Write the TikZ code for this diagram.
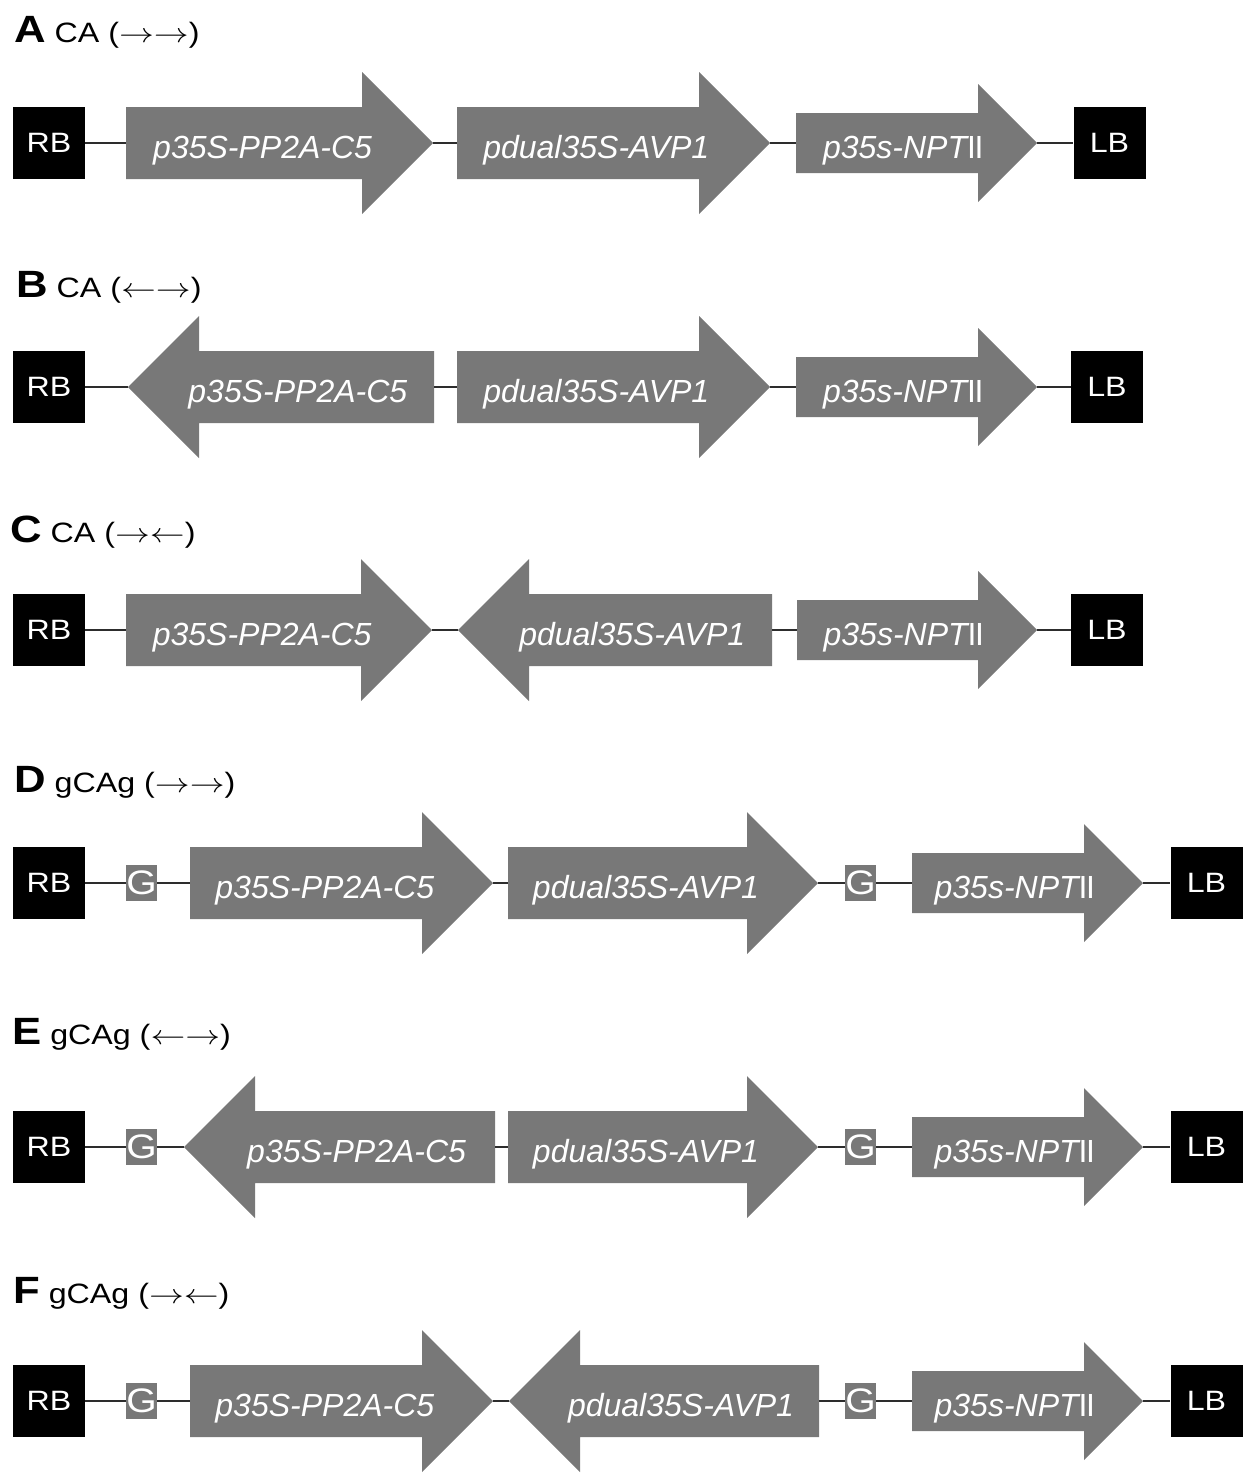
\documentclass[tikz,border=0pt]{standalone}
\usepackage{graphicx}
\usepackage{fontspec}
\setmainfont{Liberation Sans}
\newfontfamily\widesans[FakeStretch=1.15]{Liberation Sans}
\definecolor{genegray}{RGB}{120,120,120}
\definecolor{linegray}{RGB}{45,45,45}
\tikzset{
  border/.style={fill=black, minimum width=72pt, minimum height=72pt, inner sep=0pt,
    text=white, font=\widesans\fontsize{28}{28}\selectfont},
  gbox/.style={fill=genegray, minimum width=31pt, minimum height=36pt, inner sep=0pt,
    text=white, font=\widesans\fontsize{34}{34}\selectfont},
  genetext/.style={text=white, font=\itshape\fontsize{32}{32}\selectfont, anchor=base, inner sep=0pt},
  genefill/.style={fill=genegray},
  link/.style={draw=linegray, line width=2pt},
  paneltitle/.style={anchor=base west, inner sep=0pt, font=\widesans\fontsize{28}{28}\selectfont},
}
\newcommand\npt{\upshape I\kern-1.5pt I}
\newcommand\ttl[1]{{\bfseries\fontsize{38}{38}\selectfont #1}}
\newcommand\ra{\scalebox{1.4}[1.1]{$\rightarrow$}}
\newcommand\la{\scalebox{1.4}[1.1]{$\leftarrow$}}
% name, tail x, tip x, y, shaft half, head half, text
\newcommand\genearrow[7]{%
  \pgfmathsetmacro\gA{#3-sign(#3-#2)*#6}%
  \pgfmathsetmacro\gT{#2+0.445*(#3-#2)}%
  \coordinate (#1-tail) at (#2,#4);
  \coordinate (#1-tip) at (#3,#4);
  \fill[genefill] (#2,#4-#5) -- (\gA,#4-#5) -- (\gA,#4-#6) -- (#3,#4)
    -- (\gA,#4+#6) -- (\gA,#4+#5) -- (#2,#4+#5) -- cycle;
  \node[genetext] (#1) at (\gT,#4+15) {#7};
}
\begin{document}
\begin{tikzpicture}[x=1pt,y=-1pt]
\useasboundingbox (0,0) rectangle (1250,1481);

% ---------- A ----------
\node[paneltitle] (tA) at (14,42) {\ttl{A} CA (\ra\ra)};
\node[border] (rbA) at (49,143) {RB};
\genearrow{a1}{126}{433}{143}{36}{71}{p35S-PP2A-C5}
\genearrow{a2}{457}{770}{143}{36}{71}{pdual35S-AVP1}
\genearrow{a3}{796}{1037}{143}{30}{59}{p35s-NPT\npt}
\node[border] (lbA) at (1109.5,143) {LB};
\draw[link] (rbA.east) -- (a1-tail);
\draw[link] (a1-tip) -- (a2-tail);
\draw[link] (a2-tip) -- (a3-tail);
\draw[link] (a3-tip) -- (lbA.west);

% ---------- B ----------
\node[paneltitle] (tB) at (16,297) {\ttl{B} CA (\la\ra)};
\node[border] (rbB) at (49,387) {RB};
\genearrow{b1}{434}{128}{387}{36}{71}{p35S-PP2A-C5}
\genearrow{b2}{457}{770}{387}{36}{71}{pdual35S-AVP1}
\genearrow{b3}{796}{1037}{387}{30}{59}{p35s-NPT\npt}
\node[border] (lbB) at (1107,387) {LB};
\draw[link] (rbB.east) -- (b1-tip);
\draw[link] (b1-tail) -- (b2-tail);
\draw[link] (b2-tip) -- (b3-tail);
\draw[link] (b3-tip) -- (lbB.west);

% ---------- C ----------
\node[paneltitle] (tC) at (10,542) {\ttl{C} CA (\ra\la)};
\node[border] (rbC) at (49,630) {RB};
\genearrow{c1}{126}{432}{630}{36}{71}{p35S-PP2A-C5}
\genearrow{c2}{772}{458}{630}{36}{71}{pdual35S-AVP1}
\genearrow{c3}{797}{1037}{630}{30}{59}{p35s-NPT\npt}
\node[border] (lbC) at (1107,630) {LB};
\draw[link] (rbC.east) -- (c1-tail);
\draw[link] (c1-tip) -- (c2-tip);
\draw[link] (c2-tail) -- (c3-tail);
\draw[link] (c3-tip) -- (lbC.west);

% ---------- D ----------
\node[paneltitle] (tD) at (14,792) {\ttl{D} gCAg (\ra\ra)};
\node[border] (rbD) at (49,883) {RB};
\node[gbox] (gD1) at (141.5,883) {G};
\genearrow{d1}{190}{493}{883}{36}{71}{p35S-PP2A-C5}
\genearrow{d2}{508}{818}{883}{36}{71}{pdual35S-AVP1}
\node[gbox] (gD2) at (860.5,883) {G};
\genearrow{d3}{912}{1143}{883}{30}{59}{p35s-NPT\npt}
\node[border] (lbD) at (1206.5,883) {LB};
\draw[link] (rbD.east) -- (gD1.west);
\draw[link] (gD1.east) -- (d1-tail);
\draw[link] (d1-tip) -- (d2-tail);
\draw[link] (d2-tip) -- (gD2.west);
\draw[link] (gD2.east) -- (d3-tail);
\draw[link] (d3-tip) -- (lbD.west);

% ---------- E ----------
\node[paneltitle] (tE) at (12,1044) {\ttl{E} gCAg (\la\ra)};
\node[border] (rbE) at (49,1147) {RB};
\node[gbox] (gE1) at (141.5,1147) {G};
\genearrow{e1}{495}{184}{1147}{36}{71}{p35S-PP2A-C5}
\genearrow{e2}{508}{818}{1147}{36}{71}{pdual35S-AVP1}
\node[gbox] (gE2) at (860.5,1147) {G};
\genearrow{e3}{912}{1143}{1147}{30}{59}{p35s-NPT\npt}
\node[border] (lbE) at (1206.5,1147) {LB};
\draw[link] (rbE.east) -- (gE1.west);
\draw[link] (gE1.east) -- (e1-tip);
\draw[link] (e1-tail) -- (e2-tail);
\draw[link] (e2-tip) -- (gE2.west);
\draw[link] (gE2.east) -- (e3-tail);
\draw[link] (e3-tip) -- (lbE.west);

% ---------- F ----------
\node[paneltitle] (tF) at (13,1303) {\ttl{F} gCAg (\ra\la)};
\node[border] (rbF) at (49,1401) {RB};
\node[gbox] (gF1) at (141.5,1401) {G};
\genearrow{f1}{190}{493}{1401}{36}{71}{p35S-PP2A-C5}
\genearrow{f2}{819}{509}{1401}{36}{71}{pdual35S-AVP1}
\node[gbox] (gF2) at (860.5,1401) {G};
\genearrow{f3}{912}{1143}{1401}{30}{59}{p35s-NPT\npt}
\node[border] (lbF) at (1206.5,1401) {LB};
\draw[link] (rbF.east) -- (gF1.west);
\draw[link] (gF1.east) -- (f1-tail);
\draw[link] (f1-tip) -- (f2-tip);
\draw[link] (f2-tail) -- (gF2.west);
\draw[link] (gF2.east) -- (f3-tail);
\draw[link] (f3-tip) -- (lbF.west);
\end{tikzpicture}
\end{document}
